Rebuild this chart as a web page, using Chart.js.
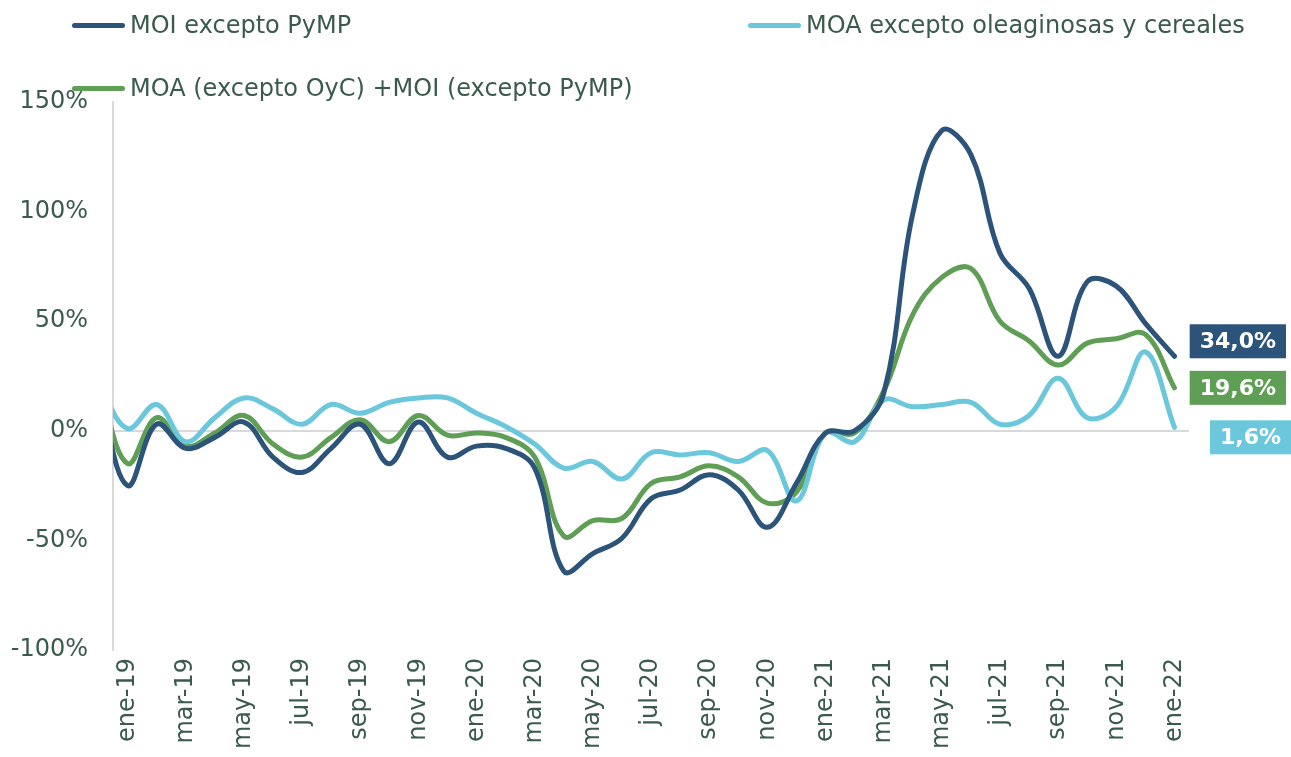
<!DOCTYPE html>
<html>
<head>
<meta charset="utf-8">
<script src="https://cdn.jsdelivr.net/npm/chart.js@4.4.0/dist/chart.umd.min.js"></script>
<style>
  html, body { margin: 0; padding: 0; background: #ffffff; }
  #wrap { position: relative; width: 1291px; height: 757px; overflow: hidden; font-family: "DejaVu Sans", Verdana, sans-serif; }
  #c { position: absolute; left: 0; top: 0; }
  .lg { position: absolute; display: flex; align-items: center; font-size: 24px; color: #3b5a4e; white-space: nowrap; line-height: 1; }
  .lg .sw { display: inline-block; width: 53px; height: 5px; border-radius: 3px; margin-right: 5px; }
</style>
</head>
<body>
<div id="wrap">
  <canvas id="c" width="1291" height="757"></canvas>
  <div class="lg" style="left:72px; top:13px;"><span class="sw" style="background:#2c5379"></span><span>MOI excepto PyMP</span></div>
  <div class="lg" style="left:748px; top:13px;"><span class="sw" style="background:#6bc8dc"></span><span>MOA excepto oleaginosas y cereales</span></div>
  <div class="lg" style="left:72px; top:76px;"><span class="sw" style="background:#5f9e55"></span><span>MOA (excepto OyC) +MOI (excepto PyMP)</span></div>
</div>
<script>
// first category (dic-18) lies just left of the visible range; the line runs out of the plot edge
const categories = ['dic-18',
  'ene-19','feb-19','mar-19','abr-19','may-19','jun-19','jul-19','ago-19','sep-19','oct-19','nov-19','dic-19',
  'ene-20','feb-20','mar-20','abr-20','may-20','jun-20','jul-20','ago-20','sep-20','oct-20','nov-20','dic-20',
  'ene-21','feb-21','mar-21','abr-21','may-21','jun-21','jul-21','ago-21','sep-21','oct-21','nov-21','dic-21',
  'ene-22'];
const firstVisible = 'ene-19';

const moiExceptoPyMP = [18,
  -25, 3, -8, -3, 4, -12, -19, -8, 3, -15, 4, -12,
  -7, -8, -17, -64, -56, -49, -31, -27, -20, -27, -44, -24,
  -1, 0, 17, 99, 137, 126, 81, 65, 34, 68, 66, 49,
  34.0];
const moaExceptoOyC = [22,
  1, 12, -5, 6, 15, 10, 3, 12, 8, 13, 15, 15,
  8, 2, -6, -17, -14, -22, -10, -11, -10, -14, -9, -32,
  -1, -5, 14, 11, 12, 13, 3, 7, 24, 6, 11, 36,
  1.6];
const moaMasMoi = [22,
  -15, 6, -7, -1, 7, -6, -12, -3, 5, -5, 7, -2,
  -1, -3, -12, -48, -41, -40, -24, -21, -16, -21, -33, -28,
  -1, -1, 18, 53, 70, 74, 50, 41, 30, 40, 42, 44,
  19.6];

const seriesNames = ['MOI excepto PyMP', 'MOA excepto oleaginosas y cereales', 'MOA (excepto OyC) +MOI (excepto PyMP)'];
const yTicks = [-100, -50, 0, 50, 100, 150];

const colors = ['#2c5379', '#6bc8dc', '#5f9e55'];
const labelOffsets = [-15, 10, 0];
const labelRight = [97, 102, 97];
const textColor = '#3b5a4e';

const endLabels = {
  id: 'endLabels',
  afterDatasetsDraw(chart) {
    const ctx = chart.ctx;
    const area = chart.chartArea;
    ctx.save();
    ctx.font = 'bold 22px "DejaVu Sans", Verdana, sans-serif';
    ctx.textBaseline = 'middle';
    ctx.textAlign = 'center';
    chart.data.datasets.forEach((ds, i) => {
      const meta = chart.getDatasetMeta(i);
      const pt = meta.data[meta.data.length - 1];
      const v = ds.data[ds.data.length - 1];
      const txt = v.toFixed(1).replace('.', ',') + '%';
      const tw = ctx.measureText(txt).width;
      const w = tw + 20, h = 34;
      const right = area.right + labelRight[i];
      const cy = pt.y + labelOffsets[i];
      ctx.fillStyle = colors[i];
      ctx.fillRect(right - w, cy - h / 2, w, h);
      ctx.fillStyle = '#ffffff';
      ctx.fillText(txt, right - w / 2, cy + 1);
    });
    ctx.restore();
  }
};

new Chart(document.getElementById('c'), {
  type: 'line',
  data: {
    labels: categories,
    datasets: [
      { label: seriesNames[0], data: moiExceptoPyMP, borderColor: colors[0] },
      { label: seriesNames[1], data: moaExceptoOyC, borderColor: colors[1] },
      { label: seriesNames[2], data: moaMasMoi, borderColor: colors[2] }
    ].map(d => Object.assign(d, { borderWidth: 5, pointRadius: 0, tension: 0.38, fill: false, borderCapStyle: 'round', borderJoinStyle: 'round' }))
  },
  options: {
    responsive: false,
    animation: false,
    devicePixelRatio: 1,
    layout: { padding: { top: 102, right: 102, left: 0, bottom: 0 } },
    plugins: { legend: { display: false }, tooltip: { enabled: false } },
    scales: {
      x: {
        type: 'category',
        min: firstVisible,
        offset: true,
        grid: { display: false, drawTicks: false },
        border: { display: false },
        ticks: {
          autoSkip: false, minRotation: 90, maxRotation: 90, padding: 8,
          color: textColor, font: { family: '"DejaVu Sans", Verdana, sans-serif', size: 24 },
          callback: function (value, index) { return index % 2 === 0 ? this.getLabelForValue(value) : ''; }
        },
        afterFit: s => { s.height = 107; }
      },
      y: {
        min: yTicks[0], max: yTicks[yTicks.length - 1],
        afterBuildTicks: s => { s.ticks = yTicks.map(v => ({ value: v })); },
        grid: { drawTicks: false, lineWidth: 2, color: c => (c.tick && c.tick.value === 0 ? '#d9d9d9' : 'rgba(0,0,0,0)') },
        border: { display: true, color: '#d9d9d9', width: 2 },
        ticks: {
          padding: 25, color: textColor, font: { family: '"DejaVu Sans", Verdana, sans-serif', size: 24 },
          callback: v => v + '%'
        },
        afterFit: s => { s.width = 113; }
      }
    }
  },
  plugins: [endLabels]
});
</script>
</body>
</html>
